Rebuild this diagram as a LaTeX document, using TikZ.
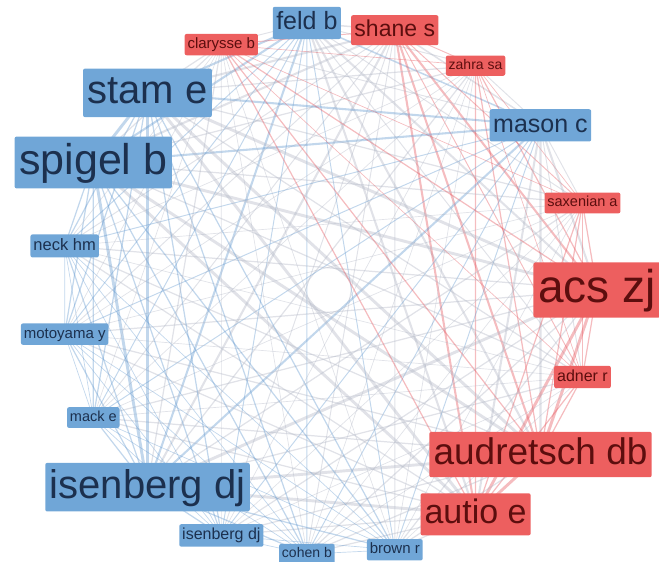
\documentclass[tikz,border=0pt]{standalone}
\usepackage{fontspec}
\setmainfont{Liberation Sans}
\usetikzlibrary{backgrounds}
\definecolor{bfill}{RGB}{112,166,215}
\definecolor{rfill}{RGB}{237,95,95}
\definecolor{btext}{RGB}{28,48,78}
\definecolor{rtext}{RGB}{92,14,14}
\definecolor{edge0}{RGB}{95,150,205}
\definecolor{edge1}{RGB}{175,180,195}
\definecolor{edge2}{RGB}{228,80,88}
\begin{document}
\begin{tikzpicture}[x=1pt,y=1pt,
  authorbox/.style={rounded corners=2pt, inner xsep=0.06*#1 pt+2pt, inner ysep=0.07*#1 pt+2.5pt,
     text height=0.75*#1 pt, text depth=0.2*#1 pt, font=\fontsize{#1}{#1}\selectfont},
  boxb/.style={fill=bfill, text=btext},
  boxr/.style={fill=rfill, text=rtext}]
\useasboundingbox (0,0) rectangle (659,562);
\foreach \nm/\cl/\fs/\dy [count=\i from 0] in {
  feld b/b/25/0, shane s/r/23/0, zahra sa/r/14/0, mason c/b/25/0, saxenian a/r/14.5/0,
  acs zj/r/46/0, adner r/r/16/0, audretsch db/r/37/0, autio e/r/34/0, brown r/b/15/0,
  cohen b/b/14/3, isenberg dj/b/16/0, isenberg dj/b/40/0, mack e/b/14.5/0, motoyama y/b/15/0,
  neck hm/b/16.5/0, spigel b/b/43/0, stam e/b/40/0, clarysse b/r/15/0}{
  \pgfmathsetmacro\ang{94.74-\i*18.947}
  \node[authorbox=\fs, box\cl] (n\i) at ({329+268*cos(\ang)},{272+268*sin(\ang)+\dy}) {\nm};
}
\def\cols{{0,1,1,0,1,1,1,1,1,0,0,0,0,0,0,0,0,0,1}}
\def\wts{{2,2,1,2,1,3,1,3,3,1,1,1,3,1,1,1,3,3,1}}
\begin{pgfonlayer}{background}
\foreach \i in {0,...,17}{
  \pgfmathtruncatemacro\jstart{\i+1}
  \foreach \j in {\jstart,...,18}{
    \pgfmathtruncatemacro\s{\cols[\i]+\cols[\j]}
    \pgfmathsetmacro\lw{0.4+0.28*\wts[\i]*\wts[\j]}
    \draw[edge\s, draw opacity=0.38, line width=\lw pt] (n\i.center) -- (n\j.center);
  }
}
\end{pgfonlayer}
\end{tikzpicture}
\end{document}
